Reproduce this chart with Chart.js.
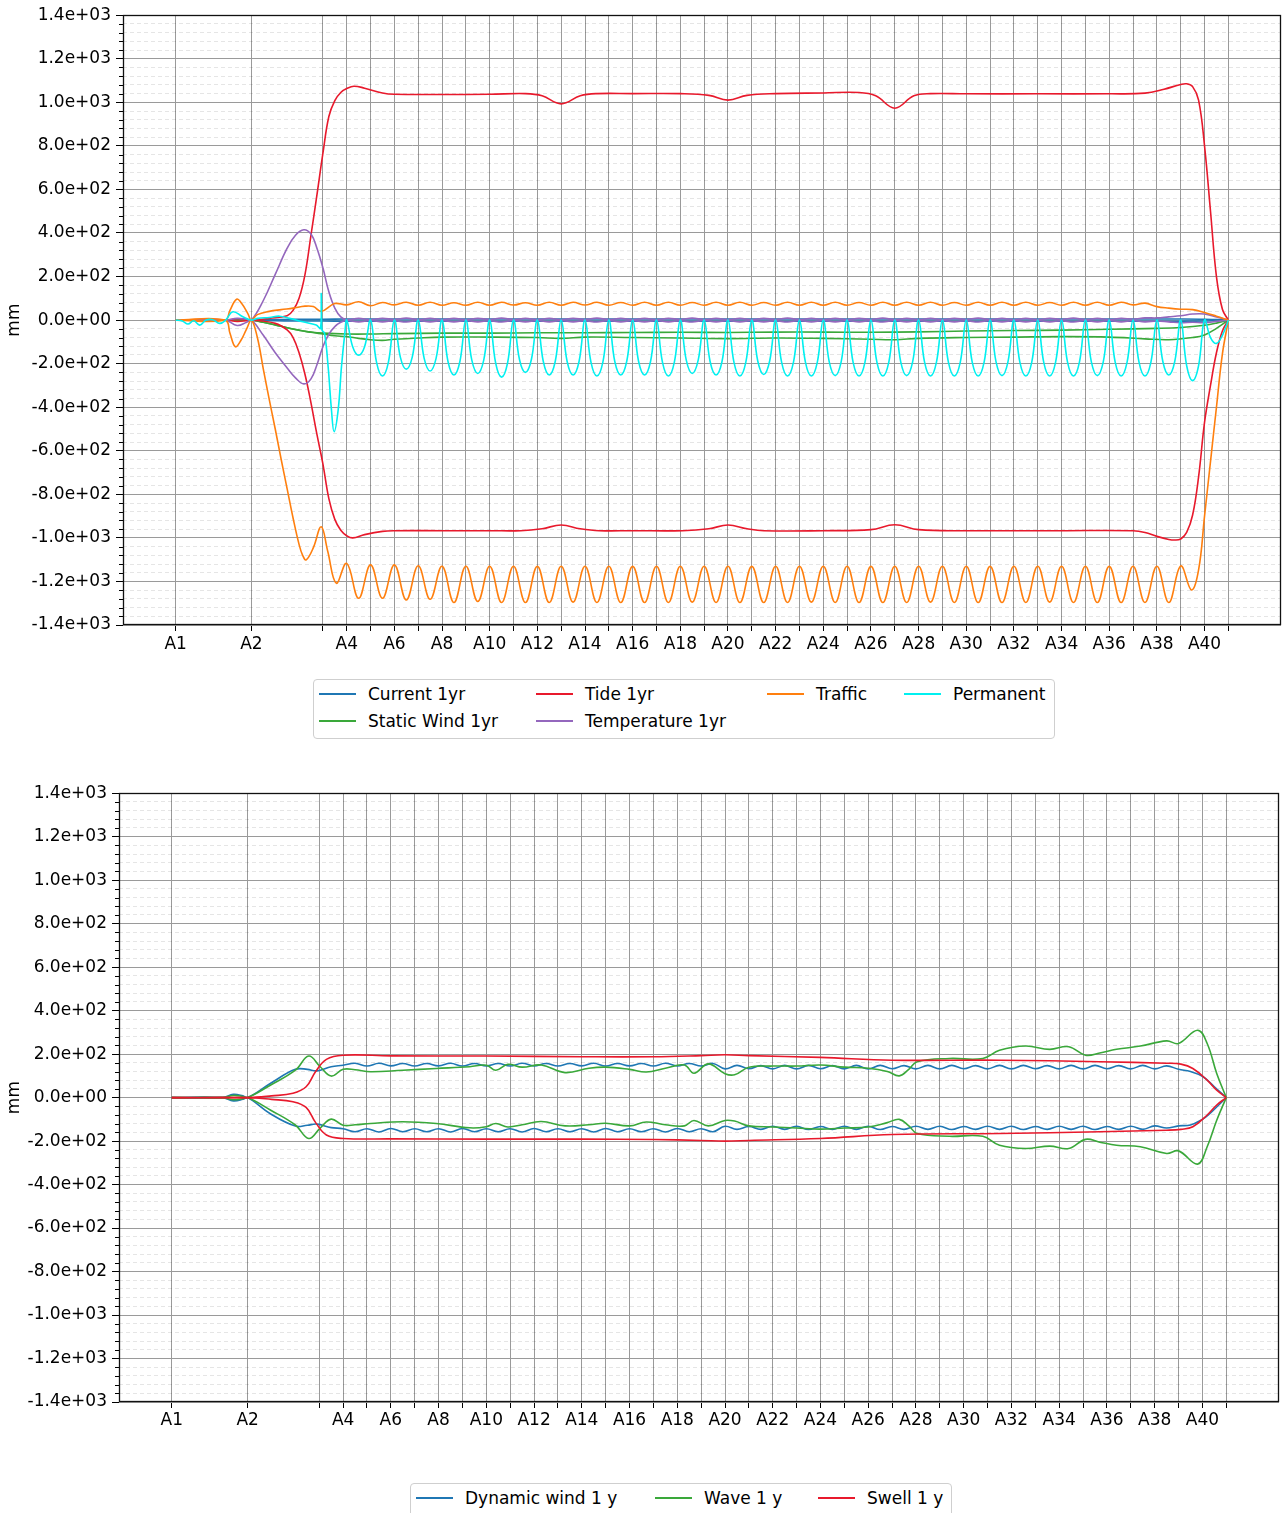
<!DOCTYPE html>
<html lang="en">
<head>
<meta charset="utf-8">
<title>Deflection envelopes</title>
<script src="https://cdn.jsdelivr.net/npm/chart.js@4.4.1/dist/chart.umd.min.js"></script>
<style>
  html, body { margin: 0; padding: 0; background: #fff; }
  body { position: relative; width: 1284px; height: 1513px; overflow: hidden; font-family: "DejaVu Sans", sans-serif; }
  canvas { position: absolute; left: 0; }
  #chartTop { top: 0; }
  #chartBottom { top: 778px; }
  .legend { position: absolute; background: #fff; border: 1px solid #cfcfcf; border-radius: 4px; box-sizing: border-box; }
  .legend .handle { position: absolute; height: 2px; width: 37px; }
  .legend .text { position: absolute; font-size: 17px; line-height: 20px; color: #000; white-space: nowrap; }
</style>
</head>
<body>
<canvas id="chartTop" width="1284" height="670"></canvas>
<div id="legendTop" class="legend" style="left:313px;top:679px;width:742px;height:60px;"></div>
<canvas id="chartBottom" width="1284" height="670"></canvas>
<div id="legendBottom" class="legend" style="left:410px;top:1483px;width:542px;height:34px;"></div>
<script>
// ---------------------------------------------------------------------------
// Stations along the structure (axis position of A1 ... A41) and their labels
// ---------------------------------------------------------------------------
const STATIONS = [-3.18, 0, 3, 4, 5, 6, 7, 8, 9, 10, 11, 12, 13, 14, 15, 16, 17, 18, 19, 20,
  21, 22, 23, 24, 25, 26, 27, 28, 29, 30, 31, 32, 33, 34, 35, 36, 37, 38, 39, 40, 41];
const STATION_LABELS = ['A1', 'A2', '', 'A4', '', 'A6', '', 'A8', '', 'A10', '', 'A12', '', 'A14', '',
  'A16', '', 'A18', '', 'A20', '', 'A22', '', 'A24', '', 'A26', '', 'A28', '', 'A30', '', 'A32', '',
  'A34', '', 'A36', '', 'A38', '', 'A40', ''];

const Y_MIN = -1400, Y_MAX = 1400, MAJOR_STEP = 200, MINOR_STEP = 40;

// Sample positions used by the span-periodic curves
const HALF_GRID = [4, 4.5, 5, 5.5, 6, 6.5, 7, 7.5, 8, 8.5, 9, 9.5, 10, 10.5, 11, 11.5, 12, 12.5, 13, 13.5,
  14, 14.5, 15, 15.5, 16, 16.5, 17, 17.5, 18, 18.5, 19, 19.5, 20, 20.5, 21, 21.5, 22, 22.5, 23, 23.5,
  24, 24.5, 25, 25.5, 26, 26.5, 27, 27.5, 28, 28.5, 29, 29.5, 30, 30.5, 31, 31.5, 32, 32.5, 33, 33.5,
  34, 34.5, 35, 35.5, 36, 36.5, 37, 37.5, 38, 38.5, 39, 39.5, 40, 40.5, 41];
const QUARTER_GRID = [
  4.25, 4.5, 4.75, 5, 5.25, 5.5, 5.75, 6, 6.25, 6.5, 6.75, 7, 7.25, 7.5, 7.75, 8,
  8.25, 8.5, 8.75, 9, 9.25, 9.5, 9.75, 10, 10.25, 10.5, 10.75, 11, 11.25, 11.5, 11.75, 12,
  12.25, 12.5, 12.75, 13, 13.25, 13.5, 13.75, 14, 14.25, 14.5, 14.75, 15, 15.25, 15.5, 15.75, 16,
  16.25, 16.5, 16.75, 17, 17.25, 17.5, 17.75, 18, 18.25, 18.5, 18.75, 19, 19.25, 19.5, 19.75, 20,
  20.25, 20.5, 20.75, 21, 21.25, 21.5, 21.75, 22, 22.25, 22.5, 22.75, 23, 23.25, 23.5, 23.75, 24,
  24.25, 24.5, 24.75, 25, 25.25, 25.5, 25.75, 26, 26.25, 26.5, 26.75, 27, 27.25, 27.5, 27.75, 28,
  28.25, 28.5, 28.75, 29, 29.25, 29.5, 29.75, 30, 30.25, 30.5, 30.75, 31, 31.25, 31.5, 31.75, 32,
  32.25, 32.5, 32.75, 33, 33.25, 33.5, 33.75, 34, 34.25, 34.5, 34.75, 35, 35.25, 35.5, 35.75, 36,
  36.25, 36.5, 36.75, 37, 37.25, 37.5, 37.75, 38, 38.25, 38.5, 38.75, 39, 39.25, 39.5, 39.75, 40,
  40.25, 40.5, 40.75, 41];

// ---------------------------------------------------------------------------
// Upper panel: static load cases (mm), max / min envelopes
// ---------------------------------------------------------------------------
// Current 1yr
const currentX = [-3.18, -0.2, 0, 1, 2, 3, 4, 10, 20, 30, 38, 39, 40, 40.5, 41];
const currentMaxY = [0, 0, 0, 3, 4, 4, 5, 5, 5, 5, 5, 5, 4, 2, 0];
const currentMinY = [0, 0, 0, -3, -4, -4, -5, -5, -5, -5, -5, -5, -4, -2, 0];

// Static Wind 1yr
const windMaxX = [-3.18, 0, 0.5, 1, 1.5, 2, 2.5, 3, 4, 5, 6, 8, 10, 12, 14, 16, 18, 20, 22, 24, 26, 28,
  30, 32, 34, 36, 38, 39, 40, 40.5, 41];
const windMaxY = [0, 0, -10, -22, -35, -46, -55, -60, -64, -64, -62, -60, -60, -58, -58, -57, -56, -57,
  -55, -55, -56, -54, -50, -48, -46, -42, -38, -34, -24, -14, 0];
const windMinX = [-3.18, 0, 0.5, 1, 1.5, 2, 2.5, 3, 3.5, 4, 4.5, 5, 5.5, 6, 7, 8, 10, 12, 13, 14, 16, 18,
  20, 22, 24, 26, 27, 28, 30, 32, 34, 36, 37.5, 38.5, 39.5, 40, 40.5, 41];
const windMinY = [0, 0, -10, -22, -35, -47, -56, -64, -72, -76, -84, -90, -93, -88, -82, -78, -78, -80,
  -84, -78, -80, -82, -85, -82, -84, -88, -90, -84, -80, -78, -76, -78, -86, -90, -80, -68, -38, 0];

// Tide 1yr
const tideMaxX = [-3.18, -1.1, -0.6, -0.2, 0, 0.75, 1.5, 1.75, 2.0, 2.25, 2.5, 2.75, 3.0, 3.25, 3.5, 3.75,
  4.0, 4.3, 4.75, 5.5, 6, 8, 10, 11.5, 12.2, 13, 13.8, 14.5, 16, 18, 19.2, 20, 20.8, 22, 24, 25.5, 26.2,
  27, 27.8, 28.5, 30, 33, 36, 37.5, 38.3, 39, 39.25, 39.5, 39.75, 40, 40.25, 40.5, 40.75, 41];
const tideMaxY = [0, 0, 6, 3, 0, 8, 20, 45, 100, 210, 390, 575, 765, 935, 1008, 1045, 1063, 1074, 1065,
  1043, 1037, 1036, 1037, 1040, 1030, 993, 1030, 1040, 1040, 1040, 1032, 1010, 1032, 1040, 1043, 1045,
  1030, 973, 1030, 1040, 1039, 1039, 1039, 1042, 1060, 1082, 1085, 1072, 1010, 800, 500, 200, 50, 0];
const tideMinX = [-3.18, -1.1, -0.6, -0.2, 0, 1.0, 1.5, 1.75, 2.0, 2.25, 2.5, 2.75, 3.0, 3.25, 3.5, 3.75,
  4.0, 4.25, 4.75, 5.5, 6, 8, 10, 11.3, 12.2, 13, 13.8, 14.6, 16, 18.1, 19.2, 20, 20.8, 21.5, 24, 26, 27,
  28, 30, 34, 37, 37.5, 38, 38.5, 38.75, 39, 39.25, 39.5, 39.75, 40, 40.25, 40.5, 40.75, 41];
const tideMinY = [0, 0, -6, -3, 0, -15, -45, -80, -150, -250, -380, -525, -660, -820, -915, -965, -990,
  -1000, -985, -970, -967, -967, -967, -967, -958, -941, -958, -967, -967, -967, -958, -941, -958, -967,
  -967, -962, -940, -962, -967, -967, -967, -975, -993, -1007, -1010, -1005, -975, -895, -720, -470,
  -300, -150, -50, 0];

// Temperature 1yr
const tempHeadX = [-3.18, -1.1, -0.6, -0.2, 0, 0.5, 1.0, 1.5, 1.85, 2.2, 2.5, 2.75, 3.0, 3.25, 3.5, 3.75];
const tempMaxHeadY = [0, 0, 8, 4, 0, 90, 210, 330, 390, 415, 395, 330, 240, 130, 55, 15];
const tempMinHeadY = [0, 0, -25, -10, 0, -70, -150, -220, -265, -293, -270, -205, -122, -65, -30, -10];
const tempMaxY = [
  2, 8, 2, 8, 3, 9, 2, 8, 2, 8, 2, 8, 3, 9, 2, 8, 2, 8, 2, 8,
  3, 9, 2, 8, 2, 8, 2, 8, 3, 9, 2, 8, 2, 8, 2, 8, 3, 9, 2, 8,
  2, 8, 2, 8, 3, 9, 2, 8, 2, 8, 2, 8, 3, 9, 2, 8, 2, 8, 2, 8,
  3, 9, 2, 8, 2, 8,
  4, 10, 10, 15, 20, 28, 28, 14, 0];
const tempMinY = [
  -2, -8, -2, -8, -3, -9, -2, -8, -2, -8, -2, -8, -3, -9, -2, -8, -2, -8, -2, -8,
  -3, -9, -2, -8, -2, -8, -2, -8, -3, -9, -2, -8, -2, -8, -2, -8, -3, -9, -2, -8,
  -2, -8, -2, -8, -3, -9, -2, -8, -2, -8, -2, -8, -3, -9, -2, -8, -2, -8, -2, -8,
  -3, -9, -2, -8, -2, -8, -2, -8,
  -4, -8, -12, -10, -12, -6, 0];

// Traffic
const trafficMaxHeadX = [-3.18, -1.1, -0.9, -0.62, -0.4, -0.15, 0, 0.25, 0.75, 1.25, 1.75, 2.25, 2.6, 2.93, 3.5];
const trafficMaxHeadY = [0, 0, 45, 96, 75, 30, 0, 25, 40, 48, 55, 64, 62, 40, 76];
const trafficMaxY = [
  70, 84, 66, 81, 70, 82, 68, 82, 68, 80,
  68, 82, 68, 82, 69, 80, 68, 82, 68, 82,
  69, 82, 68, 81, 68, 82, 68, 82, 68, 81,
  68, 82, 68, 82, 68, 81, 68, 82, 68, 82,
  68, 82, 68, 81, 68, 82, 68, 82, 68, 82,
  68, 81, 68, 82, 68, 82, 68, 82, 68, 81,
  68, 82, 68, 82, 68, 82,
  70, 78, 62, 55, 50, 48, 35, 18, 0];
const trafficMinHeadX = [-3.18, -1.1, -0.9, -0.68, -0.45, -0.2, 0, 0.25, 0.5, 0.75, 1.0, 1.25, 1.5, 1.75,
  2.0, 2.15, 2.3, 2.6, 2.93, 3.2, 3.56];
const trafficMinHeadY = [0, 0, -60, -122, -95, -40, 0, -80, -225, -365, -500, -640, -775, -910, -1030,
  -1080, -1101, -1045, -949, -1060, -1208];
const trafficMinY = [
  -1117, -1277, -1124, -1277, -1124, -1285, -1128, -1282, -1130, -1297,
  -1130, -1292, -1130, -1297, -1130, -1297, -1131, -1297, -1130, -1295,
  -1130, -1297, -1130, -1297, -1131, -1297, -1130, -1297, -1130, -1295,
  -1130, -1297, -1130, -1297, -1131, -1297, -1130, -1297, -1130, -1295,
  -1130, -1297, -1130, -1297, -1131, -1297, -1130, -1297, -1130, -1295,
  -1130, -1297, -1130, -1297, -1131, -1297, -1130, -1297, -1130, -1295,
  -1130, -1297, -1130, -1297, -1131, -1297, -1130, -1297, -1130, -1297,
  -1129];
const trafficMinTailX = [39.45, 39.75, 40, 40.25, 40.5, 40.75, 41];
const trafficMinTailY = [-1239, -1147, -900, -650, -400, -155, 0];

// Permanent
const permanentHeadX = [-3.18, -2.9, -2.66, -2.42, -2.17, -1.9, -1.63, -1.33, -1.08, -0.78, -0.36, 0,
  0.27, 0.76, 1.18, 1.6, 2.16, 2.72, 2.9, 2.93, 2.96, 3.07, 3.22, 3.36, 3.47, 3.64, 3.78, 3.92, 4];
const permanentHeadY = [0, -4, -18, -3, -23, 0, 2, -15, 0, 38, 15, 0,
  8, 12, 18, 8, -8, -23, -38, 122, -45, -61, -214, -413, -512, -413, -214, -61, 0];
const permanentY = [
  -122, -161, -122, 0,   -193, -257, -193, 0,   -170, -225, -170, 0,   -176, -234, -176, 0,
  -190, -252, -190, 0,   -184, -245, -184, 0,   -197, -262, -197, 0,   -181, -240, -181, 0,
  -190, -252, -190, 0,   -190, -252, -190, 0,   -193, -257, -193, 0,   -190, -252, -190, 0,
  -190, -252, -190, 0,   -193, -257, -193, 0,   -184, -245, -184, 0,   -190, -252, -190, 0,
  -193, -257, -193, 0,   -188, -250, -188, 0,   -193, -257, -193, 0,   -193, -257, -193, 0,
  -192, -255, -192, 0,   -193, -257, -193, 0,   -193, -257, -193, 0,   -192, -255, -192, 0,
  -193, -257, -193, 0,   -193, -257, -193, 0,   -193, -257, -193, 0,   -192, -255, -192, 0,
  -193, -257, -193, 0,   -193, -257, -193, 0,   -193, -257, -193, 0,   -192, -255, -192, 0,
  -193, -257, -193, 0,   -193, -257, -193, 0,   -190, -252, -190, 0,   -209, -278, -209, 0,
  -80, -107, -70, 0];

// ---------------------------------------------------------------------------
// Lower panel: dynamic load cases (mm), max / min envelopes
// ---------------------------------------------------------------------------
// Dynamic wind 1 y
const dynHeadX = [-3.18, -1.05, -0.6, -0.2, 0, 0.95, 2.0, 2.5, 2.9, 3.5];
const dynMaxHeadY = [0, 0, 15, 8, 0, 65, 130, 130, 123, 142];
const dynMinHeadY = [0, 0, -15, -8, 0, -74, -131, -127, -122, -138];
const dynMaxY = [
  149, 158, 145, 158, 146, 157, 145, 157, 146, 158,
  145, 157, 146, 157, 145, 158, 146, 157, 145, 157,
  146, 158, 145, 157, 146, 157, 145, 158, 146, 157,
  145, 157, 132, 148, 133, 147, 132, 148, 132, 148,
  133, 147, 132, 148, 132, 148, 133, 147, 132, 148,
  132, 148, 133, 147, 132, 148, 132, 148, 133, 147,
  132, 148, 132, 148, 133, 147, 132, 148, 132, 146,
  130];
const dynMinY = [
  -143, -157, -143, -158, -142, -157, -143, -157, -143, -158,
  -142, -157, -143, -157, -143, -158, -142, -157, -143, -157,
  -143, -158, -142, -157, -143, -157, -143, -158, -142, -157,
  -143, -157, -132, -146, -133, -146, -132, -146, -132, -147,
  -133, -146, -132, -146, -132, -147, -133, -146, -132, -146,
  -132, -147, -133, -146, -132, -146, -132, -147, -133, -146,
  -132, -146, -132, -147, -133, -146, -132, -146, -130, -140,
  -130];
const dynMaxTailX = [39.5, 40, 40.5, 41];
const dynMaxTailY = [120, 98, 50, 0];
const dynMinTailX = [39.5, 40, 40.25, 40.75, 41];
const dynMinTailY = [-126, -100, -80, -27, 0];

// Wave 1 y
const waveX = [-3.18, -1.05, -0.6, -0.2, 0, 0.95, 2.0, 2.56, 3.04, 3.5, 4.0, 4.5, 5.15, 6.5, 7.9, 9.3, 10,
  10.4, 10.9, 11.5, 12.3, 13.3, 14.3, 15, 16, 16.7, 17.5, 18.3, 18.7, 19.3, 20, 20.4, 21, 22, 23, 24, 25,
  26, 26.8, 27.3, 27.7, 28.05, 29.4, 30.8, 31.5, 32.6, 33.6, 34.4, 35.1, 35.7, 36.4, 37.4, 38.5, 39.0,
  39.8, 40.2, 40.6, 41];
const waveMaxY = [0, 0, 10, 5, 0, 57, 126, 191, 142, 99, 130, 128, 119, 126, 134, 142, 149, 126, 153, 140,
  150, 115, 135, 140, 130, 118, 135, 150, 112, 155, 110, 105, 140, 145, 145, 150, 140, 135, 120, 100, 130,
  165, 180, 180, 218, 237, 222, 234, 195, 205, 222, 237, 261, 249, 310, 249, 111, 0];
const waveMinY = [0, 0, -10, -5, 0, -57, -126, -188, -140, -99, -127, -125, -119, -111, -119, -139, -134,
  -119, -135, -125, -110, -130, -125, -118, -130, -112, -125, -130, -105, -130, -105, -108, -130, -135,
  -140, -145, -140, -135, -115, -100, -130, -165, -178, -178, -219, -234, -223, -234, -192, -205, -219,
  -226, -257, -245, -306, -226, -104, 0];

// Swell 1 y
const swellX = [-3.18, 0, 1.0, 1.9, 2.45, 2.85, 3.3, 4, 6, 10, 14, 17, 19, 20, 21, 24, 27, 31.5, 35.7,
  38.5, 39.1, 39.6, 40.2, 40.6, 41];
const swellMaxY = [0, 0, 8, 20, 50, 120, 176, 195, 192, 191, 188, 188, 193, 197, 193, 185, 172, 172, 165,
  158, 154, 134, 80, 34, 0];
const swellMinY = [0, 0, -8, -19, -45, -115, -172, -188, -190, -191, -191, -193, -197, -200, -197, -188,
  -170, -165, -157, -150, -146, -134, -80, -34, 0];

// ---------------------------------------------------------------------------
// Styling
// ---------------------------------------------------------------------------
const FONT = 'DejaVu Sans';
const C_BLUE = '#1f77b4', C_RED = '#e8192c', C_ORANGE = '#ff7f0e', C_CYAN = '#00f0f0',
  C_GREEN = '#3aa83a', C_PURPLE = '#9467bd';
const GRID_MAJOR = '#9a9a9a', GRID_MINOR = 'rgba(0,0,0,0.10)';

// x-range: station span plus a 5 % margin each side
const X_SPAN = STATIONS[STATIONS.length - 1] - STATIONS[0];
const X_MIN = STATIONS[0] - 0.05 * X_SPAN;
const X_MAX = STATIONS[STATIONS.length - 1] + 0.05 * X_SPAN;

function sci(v) {
  if (v === 0) return '0.0e+00';
  const parts = v.toExponential(1).split('e');
  const e = parseInt(parts[1], 10);
  const sign = e < 0 ? '-' : '+';
  const d = Math.abs(e);
  return parts[0] + 'e' + sign + (d < 10 ? '0' + d : String(d));
}
const isMajor = c => c.tick && c.tick.value % MAJOR_STEP === 0;

function xAxis(heightPx, pad) {
  return {
    type: 'linear', min: X_MIN, max: X_MAX,
    afterBuildTicks: s => { s.ticks = STATIONS.map(v => ({ value: v })); },
    afterFit: s => { s.height = heightPx; },
    ticks: { autoSkip: false, maxRotation: 0, minRotation: 0, padding: pad, color: '#000',
      font: { family: FONT, size: 17 }, callback: (v, i) => STATION_LABELS[i] },
    grid: { color: GRID_MAJOR, lineWidth: 1, tickLength: 6, tickColor: '#000' },
    border: { display: false }
  };
}

function yAxis(widthPx) {
  return {
    type: 'linear', min: Y_MIN, max: Y_MAX,
    afterBuildTicks: s => {
      const t = [];
      for (let v = Y_MIN; v <= Y_MAX; v += MINOR_STEP) t.push({ value: v });
      s.ticks = t;
    },
    afterFit: s => { s.width = widthPx; },
    ticks: { autoSkip: false, padding: 5, color: '#000', font: { family: FONT, size: 17 },
      callback: v => (v % MAJOR_STEP === 0 ? sci(v) : '') },
    grid: { color: c => (isMajor(c) ? GRID_MAJOR : GRID_MINOR), lineWidth: 1, tickLength: 7,
      tickColor: c => (isMajor(c) ? '#000' : 'rgba(0,0,0,0)') },
    border: { display: false, dash: c => (isMajor(c) ? [] : [4, 3]) },
    title: { display: true, text: 'mm', color: '#000', font: { family: FONT, size: 17 },
      padding: { top: 4, bottom: 4 } }
  };
}

// axis frame and minor y tick marks
const framePlugin = {
  id: 'frame',
  afterDraw(chart) {
    const { ctx, chartArea: a } = chart;
    const y = chart.scales.y;
    ctx.save();
    ctx.strokeStyle = '#000';
    ctx.lineWidth = 1;
    ctx.beginPath();
    y.ticks.forEach(t => {
      if (t.value % MAJOR_STEP !== 0) {
        const py = Math.round(y.getPixelForValue(t.value)) + 0.5;
        ctx.moveTo(a.left - 4, py);
        ctx.lineTo(a.left, py);
      }
    });
    ctx.stroke();
    ctx.lineWidth = 1.3;
    ctx.strokeStyle = '#111';
    ctx.strokeRect(Math.round(a.left) + 0.5, Math.round(a.top) + 0.5,
      Math.round(a.right - a.left) - 1, Math.round(a.bottom - a.top) - 1);
    ctx.restore();
  }
};

function series(xs, ys, color) {
  return {
    data: xs.map((x, i) => ({ x, y: ys[i] })),
    borderColor: color, backgroundColor: color, borderWidth: 1.6,
    pointRadius: 0, tension: 0.4, fill: false
  };
}

function makeChart(id, datasets, o) {
  return new Chart(document.getElementById(id), {
    type: 'line',
    data: { datasets },
    options: {
      responsive: false, animation: false, devicePixelRatio: 1, events: [],
      layout: { padding: { top: 15, right: o.padRight, bottom: 0, left: 0 } },
      plugins: { legend: { display: false }, tooltip: { enabled: false } },
      scales: { x: xAxis(o.xHeight, o.xPad), y: yAxis(o.yWidth) }
    },
    plugins: [framePlugin]
  });
}

// Upper panel (first dataset is drawn on top)
makeChart('chartTop', [
  series([...permanentHeadX, ...QUARTER_GRID], [...permanentHeadY, ...permanentY], C_CYAN),
  series([...trafficMaxHeadX, ...HALF_GRID], [...trafficMaxHeadY, ...trafficMaxY], C_ORANGE),
  series([...trafficMinHeadX, ...HALF_GRID.slice(0, trafficMinY.length), ...trafficMinTailX],
    [...trafficMinHeadY, ...trafficMinY, ...trafficMinTailY], C_ORANGE),
  series([...tempHeadX, ...HALF_GRID], [...tempMaxHeadY, ...tempMaxY], C_PURPLE),
  series([...tempHeadX, ...HALF_GRID], [...tempMinHeadY, ...tempMinY], C_PURPLE),
  series(tideMaxX, tideMaxY, C_RED),
  series(tideMinX, tideMinY, C_RED),
  series(windMaxX, windMaxY, C_GREEN),
  series(windMinX, windMinY, C_GREEN),
  series(currentX, currentMaxY, C_BLUE),
  series(currentX, currentMinY, C_BLUE)
], { padRight: 3, xHeight: 45, xPad: 3, yWidth: 123 });

// Lower panel
makeChart('chartBottom', [
  series(swellX, swellMaxY, C_RED),
  series(swellX, swellMinY, C_RED),
  series(waveX, waveMaxY, C_GREEN),
  series(waveX, waveMinY, C_GREEN),
  series([...dynHeadX, ...HALF_GRID.slice(0, dynMaxY.length), ...dynMaxTailX],
    [...dynMaxHeadY, ...dynMaxY, ...dynMaxTailY], C_BLUE),
  series([...dynHeadX, ...HALF_GRID.slice(0, dynMinY.length), ...dynMinTailX],
    [...dynMinHeadY, ...dynMinY, ...dynMinTailY], C_BLUE)
], { padRight: 5, xHeight: 46, xPad: 2, yWidth: 119 });

// Legends
const TOP_LEGEND = [
  { label: 'Current 1yr', color: C_BLUE, left: 5, top: 4 },
  { label: 'Tide 1yr', color: C_RED, left: 222, top: 4 },
  { label: 'Traffic', color: C_ORANGE, left: 453, top: 4 },
  { label: 'Permanent', color: C_CYAN, left: 590, top: 4 },
  { label: 'Static Wind 1yr', color: C_GREEN, left: 5, top: 31 },
  { label: 'Temperature 1yr', color: C_PURPLE, left: 222, top: 31 }
];
const BOTTOM_LEGEND = [
  { label: 'Dynamic wind 1 y', color: C_BLUE, left: 5, top: 4 },
  { label: 'Wave 1 y', color: C_GREEN, left: 244, top: 4 },
  { label: 'Swell 1 y', color: C_RED, left: 407, top: 4 }
];
function buildLegend(id, items) {
  const box = document.getElementById(id);
  items.forEach(it => {
    const h = document.createElement('div');
    h.className = 'handle';
    h.style.left = it.left + 'px';
    h.style.top = (it.top + 9) + 'px';
    h.style.background = it.color;
    const t = document.createElement('div');
    t.className = 'text';
    t.style.left = (it.left + 49) + 'px';
    t.style.top = it.top + 'px';
    t.textContent = it.label;
    box.appendChild(h);
    box.appendChild(t);
  });
}
buildLegend('legendTop', TOP_LEGEND);
buildLegend('legendBottom', BOTTOM_LEGEND);
</script>
</body>
</html>
